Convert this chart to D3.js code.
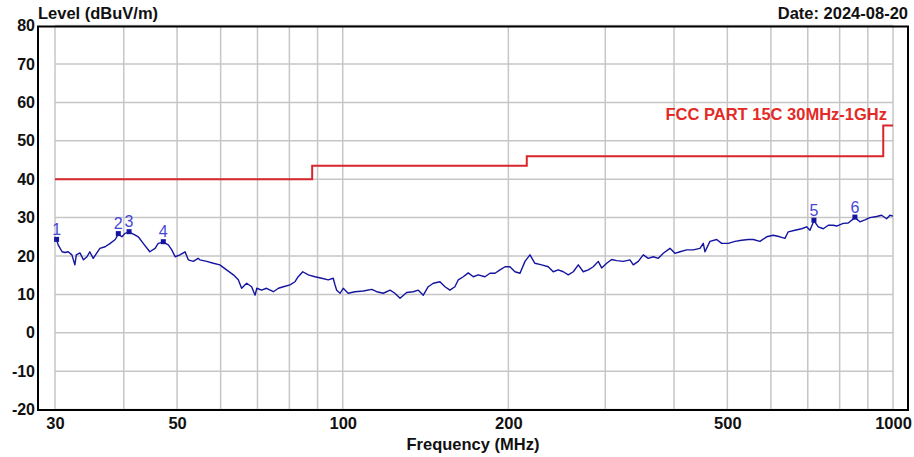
<!DOCTYPE html>
<html>
<head>
<meta charset="utf-8">
<script src="https://cdn.jsdelivr.net/npm/d3@7/dist/d3.min.js"></script>
<style>
  html, body { margin: 0; padding: 0; background: #fff; }
  svg { display: block; }
  text { font-family: "Liberation Sans", Arial, Helvetica, sans-serif; }
</style>
</head>
<body>
<svg id="chart" width="914" height="457"></svg>
<script>
// ---------------- data ----------------
const freqMHz = [30.2,30.4,30.9,31.3,31.7,32.2,32.6,32.8,33.3,33.8,34.3,34.7,35.2,35.7,36.2,37.0,37.8,38.6,39.1,39.7,
  40.2,40.9,41.9,42.5,43.4,44.6,45.6,46.2,47.2,48.2,48.9,49.6,50.6,51.7,52.4,53.5,54.6,55.0,56.6,58.2,
  59.8,61.5,63.3,64.6,65.5,66.9,68.3,69.3,69.8,71.2,72.7,74.8,76.4,78.0,80.2,81.9,83.0,84.6,86.6,89.0,
  91.6,94.1,96.1,96.8,97.5,98.9,100.2,102.3,105.3,109.0,112.9,115.3,118.5,121.9,124.4,127.1,130.7,134.3,137.2,140.1,
  143.0,146.1,150.2,153.4,156.6,159.9,162.2,165.6,169.1,172.7,176.3,181.3,185.2,189.1,193.1,197.2,201.3,205.6,210.0,214.4,
  218.9,223.5,229.9,236.3,241.3,246.4,251.7,257.0,262.4,268.0,273.6,279.4,285.3,291.3,295.5,301.8,308.1,314.7,323.5,332.7,
  337.3,344.4,351.7,359.1,366.7,374.5,382.4,393.3,401.6,410.1,421.7,433.5,445.9,452.1,455.3,464.9,478.2,488.2,501.9,516.2,
  530.8,545.7,557.3,573.1,589.4,605.9,623.1,636.3,645.1,663.5,682.3,696.7,706.4,718.3,731.4,746.9,762.7,778.8,789.9,812.0,
  829.2,852.7,870.8,889.2,907.9,933.8,953.5,973.7,987.2,1000];
const levelDbuvm = [24.2,22.9,21.1,20.9,21.1,20.3,17.7,20.3,20.8,19.0,19.8,21.1,19.4,20.7,22.0,22.4,23.3,24.3,25.7,25.0,
  25.9,26.2,25.5,25.0,23.3,21.1,22.0,23.3,23.6,22.9,21.6,19.8,20.3,21.1,19.0,18.6,19.4,19.0,18.6,18.1,
  17.7,16.4,15.1,13.8,11.6,12.9,12.0,9.8,11.6,11.1,11.6,10.7,11.6,12.0,12.5,13.3,14.6,15.9,15.1,14.6,
  14.2,13.8,14.2,12.5,11.1,10.3,11.6,10.3,10.7,10.9,11.3,10.7,10.3,11.1,10.3,9.0,10.5,10.7,11.1,9.8,
  12.0,12.9,13.3,12.0,11.1,12.0,13.8,14.6,15.6,14.6,15.1,14.6,15.5,15.5,16.4,17.2,17.2,15.9,15.5,18.6,
  20.3,18.1,17.7,17.2,15.9,16.4,15.9,15.1,15.9,17.7,15.9,16.4,17.2,18.6,16.9,18.1,19.1,18.8,18.6,19.0,
  17.7,18.6,20.3,19.4,19.8,19.4,20.7,22.0,20.7,21.1,21.6,21.6,22.0,23.3,21.1,23.8,24.3,23.3,23.3,23.8,
  24.1,24.3,24.3,23.8,25.0,25.4,25.0,24.6,26.3,26.7,27.1,27.6,26.7,29.2,27.6,27.1,28.0,28.0,27.8,28.5,
  28.6,30.0,28.9,29.4,30.0,30.3,30.6,29.7,30.6,30.4];

const markerIds = ["1","2","3","4","5","6"];
const markerFreq = [30.2, 39.1, 40.9, 47.2, 718.3, 852.7];
const markerLevel = [24.2, 25.7, 26.2, 23.6, 29.2, 30.0];

// FCC limit (step line)
const limitFreq = [30, 88, 88, 216, 216, 960, 960, 1000];
const limitLevel = [40, 40, 43.5, 43.5, 46, 46, 54, 54];
const limitName = "FCC PART 15C 30MHz-1GHz";

const xTickLabels = [30, 50, 100, 200, 500, 1000];
const xGridValues = [30,40,50,60,70,80,90,100,200,300,400,500,600,700,800,900,1000];
const yTickValues = [-20,-10,0,10,20,30,40,50,60,70,80];

const yTitle = "Level (dBuV/m)";
const xTitle = "Frequency (MHz)";
const dateText = "Date: 2024-08-20";

// ---------------- drawing ----------------
const svg = d3.select("#chart");
const x = d3.scaleLog().domain([30, 1000]).range([55, 893]);
const y = d3.scaleLinear().domain([-20, 80]).range([409.6, 25.6]);

// gridlines
svg.append("g").selectAll("line.v").data(xGridValues).join("line")
  .attr("x1", d => x(d)).attr("x2", d => x(d))
  .attr("y1", y(80)).attr("y2", y(-20))
  .attr("stroke", "#c6c6c6").attr("stroke-width", 1.5);
svg.append("g").selectAll("line.h").data(yTickValues).join("line")
  .attr("x1", x(30)).attr("x2", x(1000))
  .attr("y1", d => y(d)).attr("y2", d => y(d))
  .attr("stroke", "#c6c6c6").attr("stroke-width", 1.5);

// frame
svg.append("rect")
  .attr("x", 38).attr("y", 26.5).attr("width", 870).attr("height", 383.5)
  .attr("fill", "none").attr("stroke", "#000").attr("stroke-width", 2);

// y axis labels
const yAxis = d3.axisLeft(y).tickValues(yTickValues).tickSize(0).tickPadding(0).tickFormat(d => String(d));
const gy = svg.append("g").attr("transform", "translate(35,0)").call(yAxis);
gy.select(".domain").remove();
gy.selectAll("text").attr("fill", "#111").style("font-size", "16px").style("font-weight", "bold")
  .style("font-family", '"Liberation Sans", Arial, sans-serif');

// x axis labels
const xAxis = d3.axisBottom(x).tickValues(xTickLabels).tickSize(0).tickPadding(8).tickFormat(d => String(d));
const gx = svg.append("g").attr("transform", `translate(0,${y(-20)})`).call(xAxis);
gx.select(".domain").remove();
gx.selectAll("text").attr("fill", "#111").style("font-size", "16.5px").style("font-weight", "bold")
  .style("font-family", '"Liberation Sans", Arial, sans-serif');

// titles
svg.append("text").attr("x", 38).attr("y", 19).text(yTitle)
  .attr("fill", "#111").style("font-size", "16.5px").style("font-weight", "bold");
svg.append("text").attr("x", 908).attr("y", 19).attr("text-anchor", "end").text(dateText)
  .attr("fill", "#111").style("font-size", "16.5px").style("font-weight", "bold");
svg.append("text").attr("x", 473).attr("y", 450).attr("text-anchor", "middle").text(xTitle)
  .attr("fill", "#111").style("font-size", "16.5px").style("font-weight", "bold");

// limit line
const limitPts = limitFreq.map((f, i) => [f, limitLevel[i]]);
svg.append("path").datum(limitPts)
  .attr("d", d3.line().x(d => x(d[0])).y(d => y(d[1])))
  .attr("fill", "none").attr("stroke", "#d8262a").attr("stroke-width", 2);
svg.append("text").attr("x", 887).attr("y", 120).attr("text-anchor", "end").text(limitName)
  .attr("fill", "#e42a26").style("font-size", "16.5px").style("font-weight", "bold");

// trace
const tracePts = freqMHz.map((f, i) => [f, levelDbuvm[i]]);
svg.append("path").datum(tracePts)
  .attr("d", d3.line().x(d => x(d[0])).y(d => y(d[1])))
  .attr("fill", "none").attr("stroke", "#1414a0").attr("stroke-width", 1.4)
  .attr("stroke-linejoin", "round");

// markers
const mk = svg.append("g");
markerIds.forEach((id, i) => {
  const mx = x(markerFreq[i]), my = y(markerLevel[i]);
  mk.append("rect").attr("x", mx - 2.5).attr("y", my - 3).attr("width", 5).attr("height", 5)
    .attr("fill", "#1414a0");
  mk.append("text").attr("x", mx).attr("y", my - 5).attr("text-anchor", "middle").text(id)
    .attr("fill", "#4646d6").style("font-size", "16px");
});
</script>
</body>
</html>
